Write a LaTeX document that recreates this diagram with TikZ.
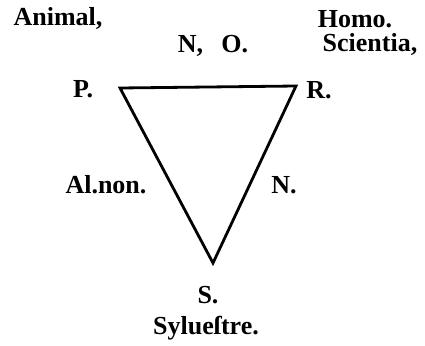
\documentclass[tikz,border=0pt]{standalone}
\usepackage{fontspec}
\setmainfont{Liberation Serif}
\usetikzlibrary{calc}

\begin{document}
\begin{tikzpicture}[x=1pt, y=-1pt,
    lbl/.style={inner sep=0pt, font=\fontsize{26}{30}\selectfont\bfseries},
    side/.style={line width=2.8pt, line join=miter}]
    % Page frame
    \useasboundingbox (0,0) rectangle (425,345);

    % Vertices
    \coordinate (P) at (120,88);
    \coordinate (R) at (296,86);
    \coordinate (S) at (213,263);

    % Triangle
    \draw[side] (P) -- (R) -- (S) -- cycle;

    % Terms
    \node[lbl] (animal) at (58,18) {Animal,};
    \node[lbl] (homo) at (355,19) {Homo.};
    \node[lbl] (scientia) at (370,44) {Scientia,};
    \node[lbl] (no) at (213,46) {N,\hspace{0.7em}O.};
    \node[lbl] (pl) at (83,89) {P.};
    \node[lbl] (rl) at (319,90) {R.};
    \node[lbl] (alnon) at (106,185) {Al.non.};
    \node[lbl] (nl) at (284,185) {N.};
    \node[lbl] (sl) at (208,295) {S.};
    \node[lbl] (sylv) at (206,328) {Sylueſtre.};
\end{tikzpicture}
\end{document}
